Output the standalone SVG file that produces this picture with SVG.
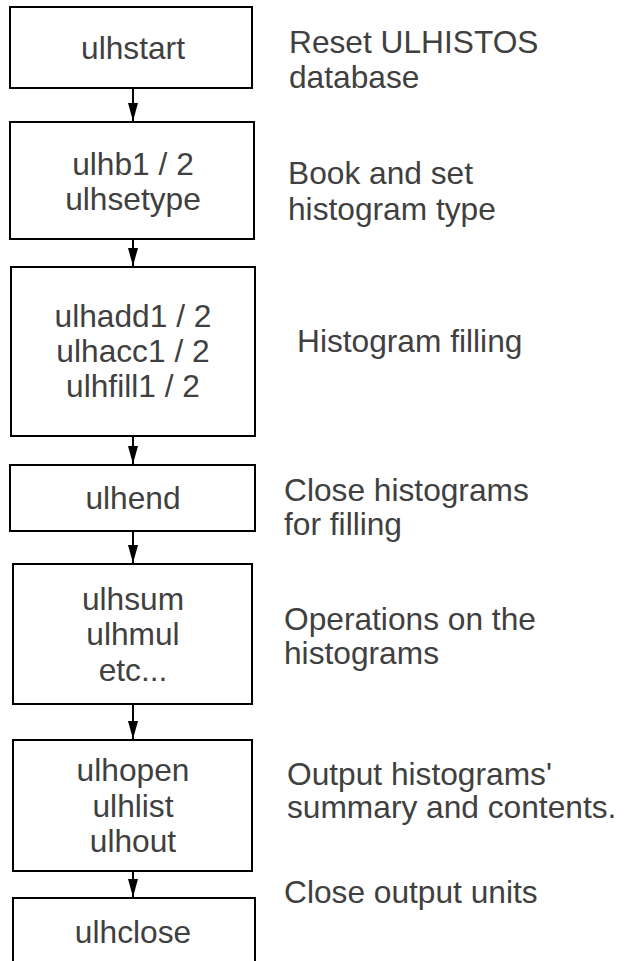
<svg xmlns="http://www.w3.org/2000/svg" width="626" height="961" viewBox="0 0 626 961">
  <defs>
    <marker id="arrow" viewBox="0 0 18 10" refX="18" refY="5" markerWidth="18" markerHeight="10" markerUnits="userSpaceOnUse" orient="auto">
      <path d="M0,0 L18,5 L0,10 Z" fill="#000"/>
    </marker>
    <style>
      .box { fill: #fff; stroke: #000; stroke-width: 2; }
      .lbl { font-family: "Liberation Sans", Arial, sans-serif; font-size: 31.7px; fill: #404040; }
      .mid { text-anchor: middle; }
      .conn { stroke: #000; stroke-width: 2; fill: none; marker-end: url(#arrow); }
    </style>
  </defs>
  <rect width="626" height="961" fill="#fff"/>

  <g id="connectors">
    <line class="conn" x1="133" y1="88" x2="133" y2="121"/>
    <line class="conn" x1="133" y1="239" x2="133" y2="266"/>
    <line class="conn" x1="133" y1="436" x2="133" y2="464"/>
    <line class="conn" x1="133" y1="531" x2="133" y2="563"/>
    <line class="conn" x1="133" y1="704" x2="133" y2="739"/>
    <line class="conn" x1="133" y1="871" x2="133" y2="897"/>
  </g>

  <g id="n-ulhstart">
    <rect class="box" x="10" y="7" width="242" height="81"/>
    <text class="lbl mid" x="133" y="59">ulhstart</text>
  </g>
  <g id="n-book">
    <rect class="box" x="10" y="122" width="244" height="117"/>
    <text class="lbl mid" x="133" y="175">ulhb1 / 2</text>
    <text class="lbl mid" x="133" y="210">ulhsetype</text>
  </g>
  <g id="n-fill">
    <rect class="box" x="11" y="267" width="244" height="169"/>
    <text class="lbl mid" x="133" y="327">ulhadd1 / 2</text>
    <text class="lbl mid" x="133" y="362">ulhacc1 / 2</text>
    <text class="lbl mid" x="133" y="397">ulhfill1 / 2</text>
  </g>
  <g id="n-ulhend">
    <rect class="box" x="10" y="465" width="245" height="66"/>
    <text class="lbl mid" x="133" y="509">ulhend</text>
  </g>
  <g id="n-ops">
    <rect class="box" x="13" y="564" width="239" height="140"/>
    <text class="lbl mid" x="133" y="610">ulhsum</text>
    <text class="lbl mid" x="133" y="645">ulhmul</text>
    <text class="lbl mid" x="133" y="681">etc...</text>
  </g>
  <g id="n-output">
    <rect class="box" x="13" y="740" width="239" height="131"/>
    <text class="lbl mid" x="133" y="781">ulhopen</text>
    <text class="lbl mid" x="133" y="817">ulhlist</text>
    <text class="lbl mid" x="133" y="852">ulhout</text>
  </g>
  <g id="n-ulhclose">
    <rect class="box" x="13" y="898" width="242" height="80"/>
    <text class="lbl mid" x="133" y="943">ulhclose</text>
  </g>

  <g id="notes">
    <text class="lbl" x="289" y="53">Reset ULHISTOS</text>
    <text class="lbl" x="289" y="88">database</text>
    <text class="lbl" x="288" y="184">Book and set</text>
    <text class="lbl" x="288" y="220">histogram type</text>
    <text class="lbl" x="297" y="352">Histogram filling</text>
    <text class="lbl" x="284" y="501">Close histograms</text>
    <text class="lbl" x="284" y="535">for filling</text>
    <text class="lbl" x="284" y="630">Operations on the</text>
    <text class="lbl" x="284" y="664">histograms</text>
    <text class="lbl" x="287" y="785">Output histograms'</text>
    <text class="lbl" x="287" y="818">summary and contents.</text>
    <text class="lbl" x="284" y="903">Close output units</text>
  </g>
</svg>
